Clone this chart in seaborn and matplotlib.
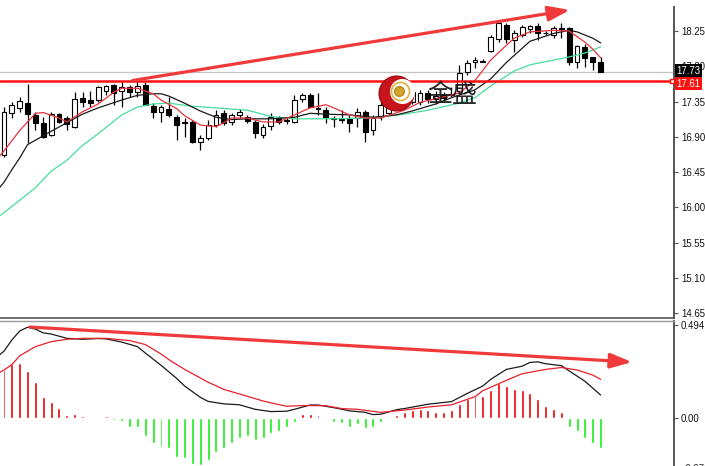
import numpy as np
import pandas as pd
import seaborn as sns
import matplotlib.pyplot as plt
from matplotlib.transforms import blended_transform_factory

# candles (daily OHLC)
opens = [16.67, 17.20, 17.27, 17.33, 17.18, 17.08, 16.92, 17.19, 17.14, 17.03,
         17.40, 17.37, 17.37, 17.48, 17.56, 17.49, 17.53, 17.47, 17.56, 17.29,
         17.22, 17.26, 17.15, 17.08, 17.09, 16.83, 16.89, 17.05, 17.20, 17.09,
         17.18, 17.15, 17.09, 16.92, 17.04, 17.14, 17.10, 17.09, 17.38, 17.43,
         17.27, 17.24, 17.14, 17.11, 17.13, 17.14, 17.22, 16.99, 17.15, 17.20,
         17.30, 17.35, 17.35, 17.34, 17.46, 17.38, 17.44, 17.43, 17.48, 17.73,
         17.85, 17.86, 18.00, 18.15, 18.33, 18.14, 18.20, 18.28, 18.32, 18.22,
         18.20, 18.28, 18.29, 17.86, 18.05, 17.92, 17.85]
highs = [17.28, 17.34, 17.41, 17.57, 17.22, 17.15, 17.22, 17.20, 17.17, 17.47,
         17.47, 17.48, 17.55, 17.56, 17.58, 17.60, 17.56, 17.60, 17.60, 17.33,
         17.31, 17.41, 17.18, 17.14, 17.12, 16.92, 17.11, 17.24, 17.24, 17.20,
         17.25, 17.18, 17.12, 17.06, 17.20, 17.16, 17.15, 17.43, 17.46, 17.46,
         17.46, 17.28, 17.16, 17.24, 17.18, 17.27, 17.24, 17.18, 17.34, 17.33,
         17.40, 17.42, 17.50, 17.50, 17.50, 17.48, 17.47, 17.54, 17.82, 17.88,
         17.92, 17.89, 18.20, 18.38, 18.35, 18.26, 18.33, 18.33, 18.35, 18.25,
         18.32, 18.35, 18.30, 18.07, 18.09, 17.92, 17.92]
lows = [16.64, 17.14, 17.22, 16.82, 16.99, 16.89, 16.91, 17.08, 16.99, 17.01,
        17.28, 17.28, 17.34, 17.44, 17.30, 17.28, 17.41, 17.41, 17.30, 17.14,
        17.09, 17.15, 16.86, 16.90, 16.82, 16.73, 16.86, 17.03, 17.05, 17.05,
        17.14, 17.08, 16.88, 16.89, 16.99, 17.07, 17.07, 17.08, 17.34, 17.28,
        17.18, 17.08, 17.03, 17.08, 16.96, 17.03, 16.83, 16.92, 17.11, 17.18,
        17.26, 17.28, 17.32, 17.30, 17.33, 17.32, 17.36, 17.41, 17.45, 17.69,
        17.78, 17.85, 17.98, 18.11, 18.10, 17.98, 18.17, 18.23, 18.14, 18.20,
        18.16, 18.16, 17.82, 17.78, 17.79, 17.75, 17.73]
closes = [17.22, 17.31, 17.36, 17.19, 17.08, 16.90, 17.19, 17.09, 17.06, 17.38,
          17.34, 17.33, 17.54, 17.55, 17.46, 17.53, 17.47, 17.55, 17.31, 17.22,
          17.28, 17.18, 17.05, 17.09, 16.83, 16.88, 17.05, 17.18, 17.08, 17.18,
          17.22, 17.10, 16.95, 17.03, 17.15, 17.09, 17.12, 17.37, 17.43, 17.28,
          17.25, 17.15, 17.13, 17.13, 17.08, 17.22, 16.96, 17.14, 17.30, 17.30,
          17.35, 17.33, 17.47, 17.46, 17.38, 17.42, 17.40, 17.45, 17.72, 17.84,
          17.88, 17.87, 18.17, 18.35, 18.15, 18.23, 18.30, 18.32, 18.23, 18.23,
          18.29, 18.29, 17.86, 18.06, 17.91, 17.86, 17.73]

# moving averages (bar index, value)
ma_fast_idx = [-1, 0, 2, 4, 5, 7, 8, 10, 12, 14, 15, 17, 19, 20, 22, 23, 25, 27, 28,
               29, 31, 33, 35, 37, 39, 41, 42, 44, 46, 48, 51, 53, 56, 58, 60, 62,
               64, 65, 67, 70, 72, 73, 74, 75, 76]
ma_fast = [16.60, 16.72, 16.98, 17.20, 17.21, 17.14, 17.09, 17.22, 17.32, 17.47,
           17.52, 17.52, 17.45, 17.37, 17.26, 17.17, 17.05, 17.03, 17.08, 17.14,
           17.14, 17.09, 17.09, 17.18, 17.27, 17.31, 17.27, 17.18, 17.14, 17.14,
           17.24, 17.34, 17.41, 17.46, 17.62, 17.88, 18.07, 18.16, 18.24, 18.26,
           18.25, 18.18, 18.11, 18.02, 17.91]
ma_mid_idx = [-1, 0, 1, 2, 3, 6, 8, 10, 12, 15, 17, 19, 20, 21, 23, 25, 27, 29, 31,
              34, 37, 39, 41, 44, 47, 50, 52, 55, 57, 60, 62, 64, 66, 67, 70, 72,
              73, 75, 76]
ma_mid = [16.20, 16.32, 16.48, 16.63, 16.80, 16.97, 17.08, 17.19, 17.27, 17.37,
          17.43, 17.45, 17.45, 17.42, 17.33, 17.23, 17.15, 17.12, 17.13, 17.13,
          17.15, 17.20, 17.19, 17.18, 17.15, 17.18, 17.23, 17.32, 17.40, 17.50,
          17.64, 17.85, 18.03, 18.12, 18.22, 18.26, 18.24, 18.16, 18.10]
ma_slow_idx = [-1, 0, 4, 6, 8, 10, 12, 15, 17, 19, 21, 24, 27, 31, 34, 37, 42, 46,
               48, 51, 54, 58, 60, 62, 65, 67, 70, 72, 74, 76]
ma_slow = [15.86, 15.93, 16.25, 16.46, 16.60, 16.79, 16.94, 17.18, 17.28, 17.32,
           17.33, 17.29, 17.27, 17.24, 17.16, 17.13, 17.13, 17.14, 17.15, 17.19,
           17.24, 17.33, 17.40, 17.55, 17.74, 17.82, 17.88, 17.92, 17.97, 18.05]

# MACD panel
macd_idx = [-1, 0, 1, 2, 3, 4, 5, 6, 8, 10, 12, 13, 15, 17, 18, 20, 22, 23, 25, 26,
            28, 30, 32, 34, 36, 37, 39, 40, 42, 44, 46, 47, 48, 50, 51, 54, 57, 59,
            61, 62, 64, 66, 67, 68, 69, 71, 72, 74, 76]
macd = [0.320, 0.355, 0.414, 0.462, 0.482, 0.472, 0.452, 0.446, 0.423, 0.418,
        0.422, 0.420, 0.403, 0.379, 0.345, 0.280, 0.210, 0.170, 0.110, 0.088,
        0.075, 0.070, 0.046, 0.034, 0.036, 0.046, 0.069, 0.069, 0.055, 0.038,
        0.030, 0.018, 0.020, 0.044, 0.050, 0.073, 0.087, 0.130, 0.170, 0.205,
        0.258, 0.275, 0.295, 0.298, 0.288, 0.278, 0.250, 0.195, 0.122]
signal_idx = [-1, 0, 1, 2, 4, 6, 8, 10, 13, 16, 18, 20, 21, 23, 26, 28, 31, 33, 36,
              38, 41, 43, 45, 48, 51, 54, 57, 60, 61, 64, 66, 69, 71, 73, 75, 76]
signal = [0.230, 0.255, 0.283, 0.330, 0.379, 0.405, 0.418, 0.423, 0.423, 0.411,
          0.390, 0.340, 0.310, 0.258, 0.190, 0.152, 0.115, 0.090, 0.062, 0.066,
          0.065, 0.050, 0.046, 0.030, 0.042, 0.058, 0.070, 0.113, 0.145, 0.200,
          0.235, 0.258, 0.268, 0.255, 0.228, 0.205]
hist = [0.255, 0.287, 0.290, 0.250, 0.193, 0.113, 0.087, 0.055, 0.016, 0.021,
        0.010, 0.005, 0.005, 0.008, -0.010, -0.015, -0.046, -0.050, -0.096, -0.135,
        -0.152, -0.160, -0.205, -0.215, -0.245, -0.250, -0.223, -0.179, -0.160, -0.135,
        -0.108, -0.096, -0.117, -0.108, -0.081, -0.067, -0.050, -0.020, 0.020, 0.020,
        0.015, -0.008, -0.020, -0.028, -0.046, -0.030, -0.055, -0.046, -0.020, 0.003,
        0.016, 0.034, 0.043, 0.046, 0.043, 0.034, 0.034, 0.043, 0.074, 0.099,
        0.117, 0.117, 0.149, 0.188, 0.170, 0.152, 0.149, 0.134, 0.099, 0.064,
        0.050, 0.034, -0.050, -0.067, -0.108, -0.131, -0.161]

price_ticks = [14.65, 15.10, 15.55, 16.00, 16.45, 16.90, 17.35, 17.80, 18.25]
support_level = 17.61
last_close = 17.73
macd_top, macd_bottom = 0.494, -0.271

# hand-drawn trend arrows: (start bar, start value) -> (end bar, end value)
price_arrow = ((16.4, 17.62), (72.1, 18.52))
macd_arrow = ((3.3, 0.483), (80.0, 0.297))

df = pd.DataFrame({'open': opens, 'high': highs, 'low': lows, 'close': closes})
df['bar'] = np.arange(len(df))
df['up'] = df['close'] >= df['open']

sns.set_style('white')
plt.rcParams['font.family'] = ['Liberation Sans', 'DejaVu Sans', 'Noto Sans CJK SC']

W, H = 705, 466
fig = plt.figure(figsize=(W / 100, H / 100), dpi=100)
ax1 = fig.add_axes([0, 1 - 318 / H, 674 / W, (318 - 7) / H])
ax2 = fig.add_axes([0, 0, 674 / W, (466 - 321) / H])

xlim = (-0.51, 85.35)
tick_font = 6.9

# --- price panel ---
ax1.axhline(last_close, color='#c4c4c4', lw=0.9, zorder=1)
ax1.axhline(support_level, color='#ff1010', lw=1.8, zorder=6)
ax1.plot([xlim[1] - 0.3], [support_level], marker='s', ms=3.5, mfc='white',
         mec='#ff1010', mew=1, zorder=7, clip_on=False)

ax1.vlines(df['bar'], df['low'], df['high'], color='black', lw=0.9, zorder=3)
body = (df['close'] - df['open']).where(lambda s: s.abs() > 0.004, 0.004)
ax1.bar(df['bar'], body, bottom=df['open'], width=0.62,
        color=np.where(df['up'], 'white', 'black'), edgecolor='black', lw=0.8, zorder=4)

for idx, vals, col in [(ma_slow_idx, ma_slow, '#45dd9c'),
                       (ma_mid_idx, ma_mid, '#1a1a1a'),
                       (ma_fast_idx, ma_fast, '#e8333d')]:
    sns.lineplot(x=idx, y=vals, ax=ax1, color=col, lw=0.9, estimator=None,
                 sort=False, zorder=5)

ax1.annotate('', xy=price_arrow[1], xytext=price_arrow[0],
             arrowprops=dict(arrowstyle='-|>,head_length=1.3,head_width=0.45',
                             color='#f03a3a', lw=2.3, shrinkA=0, shrinkB=0,
                             mutation_scale=10), zorder=8)

# watermark logo
ax1.plot([49.9], [17.46], marker='o', ms=25, mfc='#c8141c', mec='#a00e14', zorder=9)
ax1.plot([50.7], [17.49], marker='o', ms=17, mfc='white', mec='white', zorder=9)
ax1.plot([50.5], [17.48], marker='o', ms=13, mfc='none', mec='#e0b040', mew=1.2, zorder=9)
ax1.plot([50.3], [17.48], marker='o', ms=7, mfc='#d4a52a', mec='#b8891a', zorder=10)
ax1.text(57.1, 17.44, '金盛', family=['Noto Sans CJK SC', 'DejaVu Sans'], fontsize=18,
         color='#111111', ha='center', va='center', zorder=10, alpha=0.9)

ax1.set_xlim(*xlim)
ax1.set_ylim(14.586, 18.558)
ax1.yaxis.tick_right()
ax1.set_yticks(price_ticks)
ax1.set_yticklabels([f'{t:.2f}' for t in price_ticks])
ax1.set_xticks([])

tr = blended_transform_factory(ax1.transAxes, ax1.transData)
ax1.text(1.004, last_close + 0.012, f'{last_close:.2f}', transform=tr, color='white',
         fontsize=tick_font, va='center', ha='left', clip_on=False, zorder=12,
         bbox=dict(boxstyle='square,pad=0.15', fc='black', ec='none'))
ax1.text(1.004, support_level - 0.03, f'{support_level:.2f}', transform=tr, color='white',
         fontsize=tick_font, va='center', ha='left', clip_on=False, zorder=12,
         bbox=dict(boxstyle='square,pad=0.15', fc='#ff1010', ec='none'))

# --- MACD panel ---
ax2.bar(np.arange(len(hist)), hist, width=0.38,
        color=['#e80000' if h >= 0 else '#12ee12' for h in hist], zorder=3)
sns.lineplot(x=macd_idx, y=macd, ax=ax2, color='#1a1a1a', lw=0.9, estimator=None,
             sort=False, zorder=4)
sns.lineplot(x=signal_idx, y=signal, ax=ax2, color='#e8202a', lw=0.9, estimator=None,
             sort=False, zorder=4)
ax2.annotate('', xy=macd_arrow[1], xytext=macd_arrow[0],
             arrowprops=dict(arrowstyle='-|>,head_length=1.3,head_width=0.45',
                             color='#f03a3a', lw=2.3, shrinkA=0, shrinkB=0,
                             mutation_scale=10), zorder=8)
ax2.set_xlim(*xlim)
ax2.set_ylim(-0.255, 0.515)
ax2.yaxis.tick_right()
ax2.set_yticks([macd_top, 0.0])
ax2.set_yticklabels([f'{macd_top:.3f}', '0.00'])
ax2.set_xticks([])
tr2 = blended_transform_factory(ax2.transAxes, ax2.transData)
ax2.text(1.012, macd_bottom, f'{macd_bottom:.3f}', transform=tr2, fontsize=tick_font,
         va='center', ha='left', clip_on=False)
ax2.plot([1.0, 1.005], [macd_bottom, macd_bottom], transform=tr2, color='#555555',
         lw=0.8, clip_on=False)

for ax in (ax1, ax2):
    ax.set_facecolor('white')
    for s in ('left', 'top', 'bottom'):
        ax.spines[s].set_visible(False)
    ax.spines['right'].set_color('#555555')
    ax.spines['right'].set_linewidth(1.4)
    ax.tick_params(axis='y', which='both', right=True, length=3, width=0.8,
                   color='#555555', pad=2, labelsize=tick_font, labelcolor='#111111')
    ax.set_xlabel('')
    ax.set_ylabel('')
    if ax.get_legend():
        ax.get_legend().remove()

ax1.spines['bottom'].set_visible(True)
ax1.spines['bottom'].set_color('#555555')
ax1.spines['bottom'].set_linewidth(1.2)
ax2.spines['top'].set_visible(True)
ax2.spines['top'].set_color('#9a9a9a')
ax2.spines['top'].set_linewidth(1.0)

fig.savefig('out.png', dpi=100)
